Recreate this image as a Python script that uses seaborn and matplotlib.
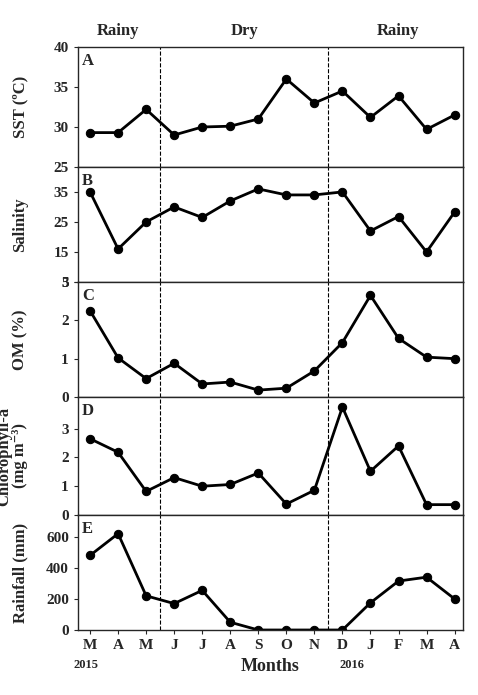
import numpy as np
import pandas as pd
import seaborn as sns
import matplotlib.pyplot as plt

months = ["M", "A", "M", "J", "J", "A", "S", "O", "N", "D", "J", "F", "M", "A"]
sst = [29.3, 29.3, 32.2, 29.0, 30.0, 30.1, 31.0, 36.0, 33.0, 34.5, 31.2, 33.9, 29.7, 31.5]
salinity = [35, 16, 25, 30, 26.5, 32, 36, 34, 34, 35, 22, 26.8, 15, 28.3]
om = [2.25, 1.02, 0.48, 0.88, 0.34, 0.39, 0.18, 0.23, 0.68, 1.42, 2.65, 1.53, 1.04, 1.0]
chl = [2.65, 2.18, 0.82, 1.3, 1.0, 1.06, 1.46, 0.38, 0.86, 3.75, 1.52, 2.4, 0.36, 0.36]
rain = [480, 620, 220, 170, 255, 50, 0, 0, 0, 0, 175, 315, 340, 200]

sns.set_style("ticks")
plt.rcParams['font.family'] = ['Liberation Serif', 'DejaVu Serif']
plt.rcParams['font.weight'] = 'bold'

df = pd.DataFrame({"x": np.arange(len(months)), "sst": sst, "sal": salinity,
                   "om": om, "chl": chl, "rain": rain})

panels = [
    ("sst", "SST (ºC)", "A", (25, 40), [25, 30, 35, 40]),
    ("sal", "Salinity", "B", (5, 43.3), [5, 15, 25, 35]),
    ("om", "OM (%)", "C", (0, 3), [0, 1, 2, 3]),
    ("chl", "Chlorophyll-a\n(mg m⁻³)", "D", (0, 4.1), [0, 1, 2, 3]),
    ("rain", "Rainfall (mm)", "E", (0, 740), [0, 200, 400, 600]),
]

fig = plt.figure(figsize=(4.78, 6.95), dpi=100)
tops = [47, 167, 282, 397, 515, 630]
H = 695.0
axes = []
for i, (col, lab, letter, yl, yt) in enumerate(panels):
    ax = fig.add_axes([78 / 478, 1 - tops[i + 1] / H, (463 - 78) / 478, (tops[i + 1] - tops[i]) / H])
    sns.lineplot(data=df, x="x", y=col, ax=ax, color="black", linewidth=2,
                 marker="o", markersize=6, markeredgecolor="black")
    ax.set_ylim(*yl)
    ax.set_yticks(yt)
    ax.set_xlim(-0.43, 13.3)
    ax.set_xticks(df["x"])
    ax.set_ylabel(lab, fontsize=12, fontweight="bold", linespacing=1.0)
    ax.yaxis.set_label_coords(-0.13, 0.5)
    ax.set_xlabel("")
    ax.text(0.01, 0.95, letter, transform=ax.transAxes, fontsize=12, fontweight="bold", va="top")
    for xv in (2.5, 8.5):
        ax.axvline(xv, color="black", linestyle="--", linewidth=0.8)
    ax.tick_params(labelsize=11, direction="out", length=3)
    for s in ax.spines.values():
        s.set_linewidth(1)
        s.set_visible(True)
    if i < 4:
        ax.tick_params(labelbottom=False, bottom=False)
    axes.append(ax)

axes[-1].set_xticklabels(months)
axes[-1].set_xlabel("Months", fontsize=13, fontweight="bold", labelpad=4)
axes[-1].text(-0.6, -0.33, "2015", transform=axes[-1].get_xaxis_transform(), fontsize=9, fontweight="bold")
axes[-1].text(8.9, -0.33, "2016", transform=axes[-1].get_xaxis_transform(), fontsize=9, fontweight="bold")
for xv, s in ((1, "Rainy"), (5.5, "Dry"), (11, "Rainy")):
    axes[0].text(xv, 1.1, s, transform=axes[0].get_xaxis_transform(), ha="center",
                 fontsize=12, fontweight="bold")

fig.savefig("out.png", dpi=100)
